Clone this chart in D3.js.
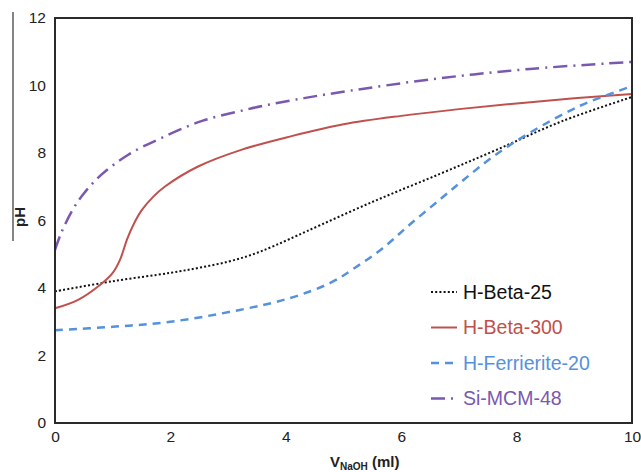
<!DOCTYPE html>
<html>
<head>
<meta charset="utf-8">
<script src="https://cdn.jsdelivr.net/npm/d3@7"></script>
<style>
  body { margin: 0; background: #fff; }
  svg { font-family: "Liberation Sans", Arial, sans-serif; }
</style>
</head>
<body>
<svg width="641" height="472"></svg>
<script>
// data
var xTicks = [0, 2, 4, 6, 8, 10];
var yTicks = [0, 2, 4, 6, 8, 10, 12];

var beta25 = [[0, 3.9], [1, 4.2], [2, 4.45], [2.5, 4.6], [3, 4.78], [3.4, 4.98], [3.8, 5.25], [4.36, 5.68],
  [5.5, 6.55], [6.67, 7.38], [7.66, 8.1], [8.8, 8.95], [10, 9.66]];
var beta300 = [[0, 3.4], [0.4, 3.65], [0.8, 4.12], [1.0, 4.45], [1.13, 4.85], [1.25, 5.45], [1.38, 5.95],
  [1.5, 6.3], [1.7, 6.7], [1.9, 7.0], [2.48, 7.6], [3.24, 8.1], [4.1, 8.5], [5, 8.85], [6, 9.1],
  [7, 9.3], [8, 9.47], [9, 9.62], [10, 9.75]];
var ferri20 = [[0, 2.75], [1, 2.85], [2, 3.0], [3.2, 3.35], [4.07, 3.7], [4.77, 4.15], [5.2, 4.6],
  [5.68, 5.18], [6.15, 5.88], [6.67, 6.62], [7.1, 7.23], [7.6, 7.9], [8.23, 8.6], [9.1, 9.4], [9.95, 9.95]];
var mcm48 = [[0, 5.13], [0.1, 5.6], [0.3, 6.3], [0.5, 6.8], [0.8, 7.35], [1.27, 7.95], [1.85, 8.45],
  [2.55, 8.95], [3.35, 9.3], [4.1, 9.56], [4.94, 9.8], [6.6, 10.2], [8.23, 10.49], [10, 10.7]];

var seriesNames = ["H-Beta-25", "H-Beta-300", "H-Ferrierite-20", "Si-MCM-48"];
var seriesData = [beta25, beta300, ferri20, mcm48];
var seriesColors = ["#111111", "#c0504d", "#5591dc", "#7a58b0"];
var seriesDash = ["2,2.2", null, "8,6", "14,6,2,6"];
var seriesWidth = [2, 2, 2.5, 2.5];

var svg = d3.select("svg");
// plot box (don't use "top" - clashes with window.top)
var plotL = 55, plotR = 632, plotT = 18, plotB = 423;

var x = d3.scaleLinear().domain([0, 10]).range([plotL, plotR]);
var y = d3.scaleLinear().domain([0, 12]).range([plotB, plotT]);

// axes (labels only, no tick marks)
svg.append("g")
    .attr("transform", "translate(0," + plotB + ")")
    .call(d3.axisBottom(x).tickValues(xTicks).tickSize(0).tickPadding(8))
    .call(g => g.select(".domain").remove())
    .selectAll("text")
    .attr("font-size", 15.5)
    .attr("fill", "#222")
    .attr("font-family", "Liberation Sans, Arial, sans-serif");

svg.append("g")
    .attr("transform", "translate(" + plotL + ",0)")
    .call(d3.axisLeft(y).tickValues(yTicks).tickSize(0).tickPadding(9))
    .call(g => g.select(".domain").remove())
    .selectAll("text")
    .attr("font-size", 15.5)
    .attr("fill", "#222")
    .attr("font-family", "Liberation Sans, Arial, sans-serif");

// curves
var line = d3.line()
    .x(d => x(d[0]))
    .y(d => y(d[1]))
    .curve(d3.curveCatmullRom.alpha(0.5));

svg.append("g")
    .selectAll("path")
    .data(seriesData)
    .enter()
    .append("path")
    .attr("d", line)
    .attr("fill", "none")
    .attr("stroke", (d, i) => seriesColors[i])
    .attr("stroke-width", (d, i) => seriesWidth[i])
    .attr("stroke-dasharray", (d, i) => seriesDash[i]);

// plot frame
svg.append("rect")
    .attr("x", plotL)
    .attr("y", plotT)
    .attr("width", plotR - plotL)
    .attr("height", plotB - plotT)
    .attr("fill", "none")
    .attr("stroke", "#2a2a2a")
    .attr("stroke-width", 2);

// legend
var legend = svg.append("g")
    .selectAll("g")
    .data(seriesNames)
    .enter()
    .append("g")
    .attr("transform", (d, i) => "translate(431," + (292 + i * 35.5) + ")");

legend.append("line")
    .attr("x1", 0).attr("x2", 26)
    .attr("stroke", (d, i) => seriesColors[i])
    .attr("stroke-width", (d, i) => seriesWidth[i])
    .attr("stroke-dasharray", (d, i) => seriesDash[i]);

legend.append("text")
    .attr("x", 32)
    .attr("dy", "0.35em")
    .attr("font-size", 19.5)
    .attr("fill", (d, i) => seriesColors[i])
    .text(d => d);

// axis titles
var xt = svg.append("text")
    .attr("x", 330)
    .attr("y", 467)
    .attr("font-size", 15)
    .attr("font-weight", "bold")
    .attr("fill", "#222");
xt.append("tspan").text("V");
xt.append("tspan").attr("font-size", 10).attr("dy", 3).text("NaOH");
xt.append("tspan").attr("dy", -3).text(" (ml)");

svg.append("text")
    .attr("transform", "translate(25,217) rotate(-90)")
    .attr("text-anchor", "middle")
    .attr("font-size", 15)
    .attr("font-weight", "bold")
    .attr("fill", "#222")
    .text("pH");

// stray vertical rule left of the y title
svg.append("line")
    .attr("x1", 13).attr("x2", 13)
    .attr("y1", 12).attr("y2", 241)
    .attr("stroke", "#333")
    .attr("stroke-width", 1.2);
</script>
</body>
</html>
